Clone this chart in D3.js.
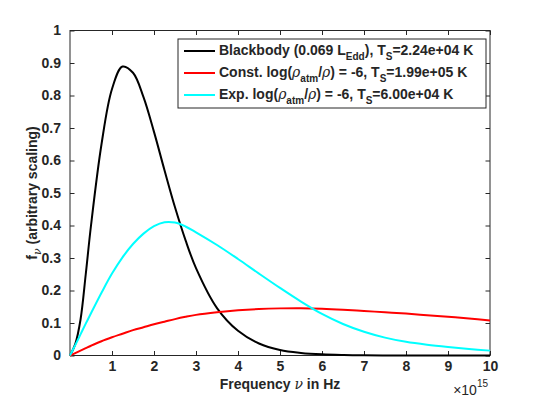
<!DOCTYPE html>
<html>
<head>
<meta charset="utf-8">
<script src="https://cdn.jsdelivr.net/npm/d3@7"></script>
<style>
  body { margin: 0; background: #fff; }
  svg text { font-family: "Liberation Sans", Arial, Helvetica, sans-serif; font-weight: bold; fill: #262626; }
</style>
</head>
<body>
<div id="chart"></div>
<script>
// Values (frequency in units of 1e15 Hz)
const freq = [0, 0.125, 0.25, 0.375, 0.5, 0.75, 1, 1.25, 1.5, 1.75, 2, 2.25, 2.5, 2.75, 3,
              3.5, 4, 4.5, 5, 5.5, 6, 6.5, 7, 7.5, 8, 8.5, 9, 9.5, 10];
const blackbody = [0, 0.035, 0.11, 0.25, 0.40, 0.65, 0.82, 0.889, 0.87, 0.795, 0.688, 0.57, 0.456, 0.355, 0.269,
                   0.146, 0.076, 0.037, 0.017, 0.008, 0.0035, 0.0015, 0.0006, 0.0002, 0, 0, 0, 0, 0];
const constAtm = [0, 0.0075, 0.015, 0.0225, 0.03, 0.044, 0.056, 0.067, 0.078, 0.087, 0.096, 0.104, 0.112, 0.119, 0.125,
                  0.133, 0.139, 0.143, 0.145, 0.1455, 0.144, 0.141, 0.137, 0.133, 0.129, 0.124, 0.119, 0.114, 0.108];
const expAtm = [0, 0.032, 0.065, 0.098, 0.13, 0.193, 0.252, 0.302, 0.343, 0.375, 0.398, 0.41, 0.409, 0.397, 0.379,
                0.34, 0.297, 0.252, 0.208, 0.166, 0.128, 0.097, 0.073, 0.055, 0.042, 0.033, 0.026, 0.02, 0.015];
const xTicks = [1, 2, 3, 4, 5, 6, 7, 8, 9, 10];
const yTicks = [0, 0.1, 0.2, 0.3, 0.4, 0.5, 0.6, 0.7, 0.8, 0.9, 1];

const width = 540, height = 400;
const plotLeft = 70, plotRight = 490, plotTop = 30.5, plotBottom = 355.5;

const svg = d3.select("#chart").append("svg")
    .attr("width", width)
    .attr("height", height);

const x = d3.scaleLinear().domain([0, 10]).range([plotLeft, plotRight]);
const y = d3.scaleLinear().domain([0, 1]).range([plotBottom, plotTop]);

// axes with inward ticks, box on all four sides
const tickLen = 4.5;
svg.append("g")
    .attr("transform", `translate(0,${plotBottom})`)
    .call(d3.axisBottom(x).tickValues(xTicks).tickSizeInner(-tickLen).tickSizeOuter(0).tickPadding(6).tickFormat(d3.format("d")))
    .call(g => g.selectAll("text").style("font-size", "14px"));
svg.append("g")
    .attr("transform", `translate(0,${plotTop})`)
    .call(d3.axisTop(x).tickValues(xTicks).tickSizeInner(-tickLen).tickSizeOuter(0).tickFormat(""));
svg.append("g")
    .attr("transform", `translate(${plotLeft},0)`)
    .call(d3.axisLeft(y).tickValues(yTicks).tickSizeInner(-tickLen).tickSizeOuter(0).tickPadding(9).tickFormat(d => d === 0 || d === 1 ? d3.format("d")(d) : d3.format(".1f")(d)))
    .call(g => g.selectAll("text").style("font-size", "14px"));
svg.append("g")
    .attr("transform", `translate(${plotRight},0)`)
    .call(d3.axisRight(y).tickValues(yTicks).tickSizeInner(-tickLen).tickSizeOuter(0).tickFormat(""));

svg.selectAll(".domain").remove();
svg.selectAll(".tick line").attr("stroke", "#262626");
svg.append("rect")
    .attr("x", plotLeft).attr("y", plotTop)
    .attr("width", plotRight - plotLeft).attr("height", plotBottom - plotTop)
    .attr("fill", "none").attr("stroke", "#262626").attr("stroke-width", 1);

// curves
const series = [
    { values: blackbody, color: "#000000" },
    { values: constAtm, color: "#ff0000" },
    { values: expAtm, color: "#00ffff" }
];
const line = d3.line()
    .x(d => x(d[0]))
    .y(d => y(Math.max(0, d[1])))
    .curve(d3.curveCatmullRom.alpha(0.5));

svg.append("g").selectAll("path")
    .data(series)
    .enter()
    .append("path")
    .attr("d", s => line(freq.map((f, i) => [f, s.values[i]])))
    .attr("fill", "none")
    .attr("stroke", s => s.color)
    .attr("stroke-width", 2);

// axis labels
const xlab = svg.append("text")
    .attr("x", (plotLeft + plotRight) / 2)
    .attr("y", 389)
    .attr("text-anchor", "middle")
    .style("font-size", "14px");
xlab.append("tspan").text("Frequency ");
xlab.append("tspan").text("ν").style("font-style", "italic").style("font-weight", "normal").style("font-family", "DejaVu Serif, serif");
xlab.append("tspan").text(" in Hz");

const expo = svg.append("text")
    .attr("x", 488)
    .attr("y", 395)
    .attr("text-anchor", "end")
    .style("font-size", "14px")
    .style("font-weight", "normal");
expo.append("tspan").text("×10");
expo.append("tspan").text("15").attr("dy", -8).style("font-size", "10px");

const ylab = svg.append("text")
    .attr("transform", `translate(37,${(plotTop + plotBottom) / 2}) rotate(-90)`)
    .attr("text-anchor", "middle")
    .style("font-size", "14px");
ylab.append("tspan").text("f");
ylab.append("tspan").text("ν").attr("dy", 4).style("font-size", "11px").style("font-style", "italic").style("font-weight", "normal").style("font-family", "DejaVu Serif, serif");
ylab.append("tspan").text(" (arbitrary scaling)").attr("dy", -4);

// legend
const legend = svg.append("g");
legend.append("rect")
    .attr("x", 178).attr("y", 39)
    .attr("width", 308).attr("height", 69)
    .attr("fill", "#fff").attr("stroke", "#262626").attr("stroke-width", 1);

const legendRows = [
    { color: "#000000", parts: [["Blackbody (0.069 L"], ["Edd", "sub"], ["), T"], ["S", "sub"], ["=2.24e+04 K"]] },
    { color: "#ff0000", parts: [["Const. log("], ["ρ", "greek"], ["atm", "sub"], ["/"], ["ρ", "greek"], [") = -6, T"], ["S", "sub"], ["=1.99e+05 K"]] },
    { color: "#00ffff", parts: [["Exp. log("], ["ρ", "greek"], ["atm", "sub"], ["/"], ["ρ", "greek"], [") = -6, T"], ["S", "sub"], ["=6.00e+04 K"]] }
];

legendRows.forEach((row, i) => {
    const ly = 51 + i * 22;
    legend.append("line")
        .attr("x1", 184).attr("x2", 215)
        .attr("y1", ly).attr("y2", ly)
        .attr("stroke", row.color).attr("stroke-width", 2);
    const t = legend.append("text")
        .attr("x", 219)
        .attr("y", ly + 4)
        .style("font-size", "14px");
    let shift = 0;
    row.parts.forEach(([str, kind]) => {
        const target = kind === "sub" ? 5 : 0;
        const span = t.append("tspan").text(str).attr("dy", target - shift);
        shift = target;
        if (kind === "sub") span.style("font-size", "10px");
        if (kind === "greek") span.style("font-style", "italic").style("font-weight", "normal").style("font-family", "DejaVu Serif, serif");
    });
});
</script>
</body>
</html>
